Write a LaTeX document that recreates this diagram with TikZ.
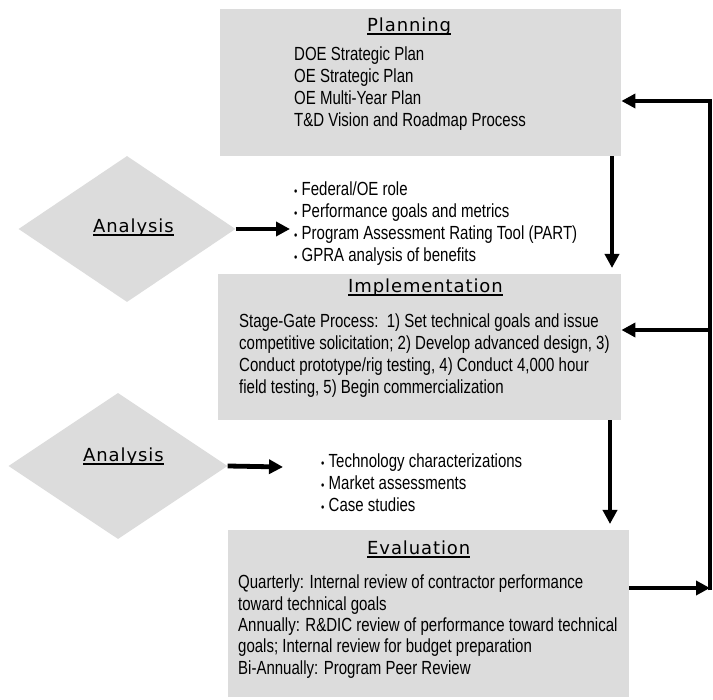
\documentclass[tikz,border=0pt]{standalone}
\usepackage{fontspec}
\setmainfont{Liberation Sans}[FakeStretch=0.79]
\newfontfamily\titlefont{DejaVu Sans}[LetterSpace=5]
\usetikzlibrary{arrows.meta,shapes.geometric}
\definecolor{boxgray}{RGB}{220,220,220}
\newcommand\myul[1]{\setbox0\hbox{#1}\rlap{\raisebox{-2.6pt}{\rule{\wd0}{1.3pt}}}\box0}
\newcommand\mybul{\makebox[7.5pt][l]{\fontsize{12}{12}\selectfont\raisebox{0.8pt}{•}}}
\begin{document}
\begin{tikzpicture}[x=1pt,y=-1pt,
  box/.style={fill=boxgray, draw=none, anchor=north west, inner sep=0pt},
  dia/.style={diamond, fill=boxgray, draw=none, inner sep=0pt},
  body/.style={font=\fontsize{19}{22}\selectfont, inner sep=0pt, anchor=base west},
  ttl/.style={font=\titlefont\fontsize{18}{20}\selectfont, inner sep=0pt, anchor=base west},
  arr/.style={line width=4.8pt, line join=miter, -{Triangle[length=14pt,width=14pt]}},
  thk/.style={line width=4.8pt, line join=miter}]
\useasboundingbox (0,0) rectangle (713,700);

% boxes
\node[box, minimum width=401pt, minimum height=147pt] (plan) at (220,9) {};
\node[box, minimum width=403pt, minimum height=146pt] (impl) at (218,274) {};
\node[box, minimum width=401pt, minimum height=167pt] (eval) at (228,530) {};

% diamonds
\node[dia, minimum width=217pt, minimum height=146pt] (d1) at (127,229) {};
\node[dia, minimum width=219pt, minimum height=146pt] (d2) at (118,466) {};
\node[ttl] (d1t) at (93,233) {\myul{Analysis}};
\node[ttl] (d2t) at (83,462) {\myul{Analysis}};

% titles
\node[ttl] (plant) at (367,32) {\myul{Planning}};
\node[ttl] (implt) at (348,293) {\myul{Implementation}};
\node[ttl] (evalt) at (367,555) {\myul{Evaluation}};

% planning text
\foreach \t [count=\i] in {DOE Strategic Plan, OE Strategic Plan, OE Multi-Year Plan, T\&D Vision and Roadmap Process}
  \node[body] (p\i) at (294,{61+22*(\i-1)}) {\t};

% implementation text
\foreach \t [count=\i] in {{Stage-Gate Process:\ \ 1) Set technical goals and issue},
  {competitive solicitation; 2) Develop advanced design, 3)},
  {Conduct prototype/rig testing, 4) Conduct 4,000 hour},
  {field testing, 5) Begin commercialization}}
  \node[body] (im\i) at (239,{328+22*(\i-1)}) {\t};

% evaluation text
\foreach \t [count=\i] in {{Quarterly: Internal review of contractor performance},
  {toward technical goals},
  {Annually: R\&DIC review of performance toward technical},
  {goals; Internal review for budget preparation},
  {Bi-Annually: Program Peer Review}}
  \node[body] (ev\i) at (238,{589+21.3*(\i-1)}) {\t};

% bullet lists
\foreach \t [count=\i] in {Federal/OE role, Performance goals and metrics, Program Assessment Rating Tool (PART), GPRA analysis of benefits}
  \node[body] (ba\i) at (294,{196+22*(\i-1)}) {\mybul\t};
\foreach \t [count=\i] in {Technology characterizations, Market assessments, Case studies}
  \node[body] (bb\i) at (321,{468+22*(\i-1)}) {\mybul\t};

% connectors
\coordinate (a1e) at (290,229);
\coordinate (a2e) at (283,467);
\draw[arr] (d1.east) -- (a1e);
\draw[arr] (d2.east) -- (a2e);

\coordinate (vx1) at (612,0);
\coordinate (vx2) at (610,0);
\draw[arr] (plan.south -| vx1) -- ([yshift=6pt]impl.north -| vx1);
\draw[arr] (impl.south -| vx2) -- ([yshift=6pt]eval.north -| vx2);

\coordinate (rx) at (710,0);
\coordinate (py) at (0,101);
\coordinate (iy) at (0,330);
\coordinate (ey) at (0,588);
\draw[arr] (eval.east |- ey) -- (rx |- ey);
\draw[arr] ([yshift=-2.5pt]rx |- ey) -- (rx |- py) -- (plan.east |- py);
\draw[arr] (rx |- iy) -- (impl.east |- iy);
\end{tikzpicture}
\end{document}
